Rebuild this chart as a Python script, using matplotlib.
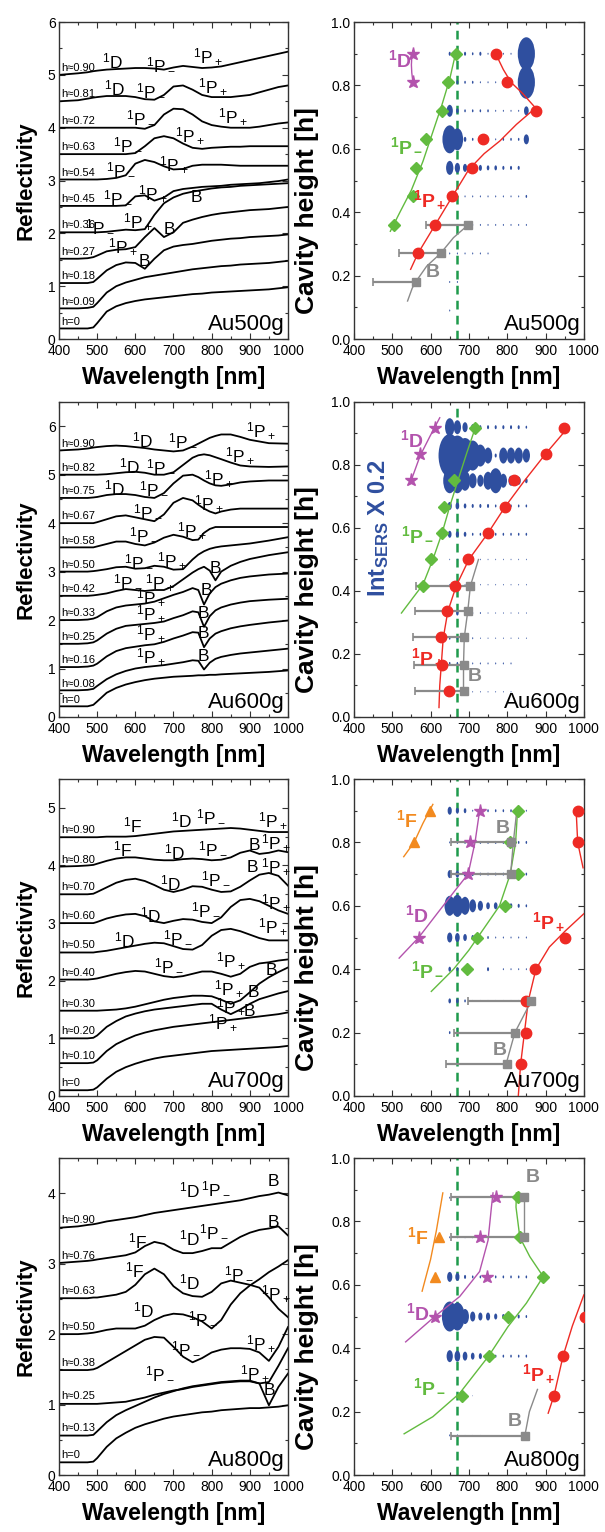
import matplotlib
matplotlib.use("Agg")
import matplotlib.pyplot as plt
from matplotlib.path import Path
from matplotlib.ticker import MultipleLocator

plt.rcParams["font.family"] = ["Liberation Sans", "DejaVu Sans"]
plt.rcParams["mathtext.fontset"] = "custom"
plt.rcParams["mathtext.rm"] = "Liberation Sans"
plt.rcParams["mathtext.bf"] = "Liberation Sans:bold"
plt.rcParams["mathtext.it"] = "Liberation Sans:italic"

# ---------------------------------------------------------------- reflectivity
GRID = [400, 450, 475, 490, 500, 525, 550, 575, 600, 625, 650, 675, 700,
        725, 750, 775, 800, 825, 850, 875, 900, 925, 950, 975, 1000]
GRID_600 = [400, 450, 475, 490, 500, 525, 550, 575, 600, 625, 650, 675, 700,
            725, 750, 765, 780, 795, 810, 825, 850, 875, 900, 950, 1000]

R500_H = ["h=0", "h≈0.09", "h≈0.18", "h≈0.27", "h≈0.36", "h≈0.45",
          "h≈0.54", "h≈0.63", "h≈0.72", "h≈0.81", "h≈0.90"]
R500 = [
    [0.2, 0.2, 0.2, 0.22, 0.3, 0.52, 0.62, 0.68, 0.72, 0.75, 0.77, 0.79, 0.81, 0.83, 0.85, 0.86, 0.88, 0.89, 0.9, 0.91, 0.92, 0.93, 0.94, 0.96, 0.98],
    [0.58, 0.58, 0.59, 0.61, 0.68, 0.88, 1.0, 1.07, 1.12, 1.17, 1.2, 1.23, 1.26, 1.29, 1.32, 1.34, 1.36, 1.38, 1.39, 1.41, 1.42, 1.43, 1.44, 1.46, 1.48],
    [1.06, 1.06, 1.06, 1.08, 1.14, 1.3, 1.4, 1.45, 1.44, 1.33, 1.52, 1.68, 1.75, 1.78, 1.8, 1.83, 1.86, 1.88, 1.9, 1.91, 1.93, 1.94, 1.95, 1.96, 1.98],
    [1.52, 1.52, 1.53, 1.55, 1.58, 1.66, 1.69, 1.7, 1.74, 1.93, 2.1, 1.93, 2.02, 2.2, 2.26, 2.31, 2.35, 2.38, 2.4, 2.42, 2.44, 2.45, 2.46, 2.48, 2.5],
    [2.02, 2.02, 2.02, 2.02, 2.02, 2.03, 2.05, 2.07, 2.06, 2.08, 2.35, 2.57, 2.68, 2.75, 2.79, 2.82, 2.85, 2.87, 2.88, 2.9, 2.91, 2.92, 2.93, 2.94, 2.95],
    [2.52, 2.52, 2.52, 2.52, 2.52, 2.52, 2.52, 2.53, 2.7, 2.72, 2.62, 2.68, 2.8, 2.84, 2.86, 2.88, 2.89, 2.9, 2.92, 2.93, 2.94, 2.95, 2.97, 2.99, 3.02],
    [3.02, 3.02, 3.02, 3.02, 3.02, 3.03, 3.05, 3.1, 3.32, 3.39, 3.35, 3.27, 3.21, 3.22, 3.28, 3.3, 3.3, 3.3, 3.29, 3.28, 3.28, 3.28, 3.28, 3.28, 3.28],
    [3.5, 3.5, 3.5, 3.5, 3.5, 3.5, 3.5, 3.5, 3.52, 3.65, 3.8, 3.84, 3.8, 3.7, 3.62, 3.6, 3.62, 3.63, 3.64, 3.64, 3.65, 3.65, 3.65, 3.65, 3.65],
    [4.0, 4.0, 4.0, 4.0, 4.0, 4.0, 4.0, 4.0, 4.0, 3.98, 4.05, 4.25, 4.36, 4.35, 4.25, 4.12, 4.05, 4.02, 4.0, 4.0, 4.0, 4.02, 4.05, 4.08, 4.1],
    [4.5, 4.52, 4.55, 4.57, 4.58, 4.6, 4.6, 4.6, 4.58, 4.54, 4.53, 4.62, 4.78, 4.8, 4.72, 4.62, 4.58, 4.58, 4.58, 4.6, 4.62, 4.67, 4.72, 4.77, 4.8],
    [5.0, 5.03, 5.05, 5.07, 5.08, 5.1, 5.11, 5.12, 5.13, 5.13, 5.12, 5.1, 5.14, 5.17, 5.15, 5.13, 5.14, 5.16, 5.2, 5.24, 5.28, 5.32, 5.36, 5.4, 5.44],
]
R500_MARKS = [
    (540, 5.26, "D"), (667, 5.19, "Pm"), (790, 5.35, "Pp"),
    (545, 4.75, "D"), (641, 4.69, "Pm"), (803, 4.78, "Pp"),
    (615, 4.18, "Pm"), (855, 4.21, "Pp"),
    (580, 3.68, "Pm"), (742, 3.84, "Pp"),
    (562, 3.20, "Pm"), (702, 3.30, "Pp"),
    (553, 2.67, "Pm"), (645, 2.76, "Pp"), (759, 2.67, "B"),
    (508, 2.12, "Pm"), (606, 2.23, "Pp"), (689, 2.07, "B"),
    (566, 1.75, "Pp"), (623, 1.47, "B"),
]

R600_H = ["h=0", "h≈0.08", "h≈0.16", "h≈0.25", "h≈0.33", "h≈0.42",
          "h≈0.50", "h≈0.58", "h≈0.67", "h≈0.75", "h≈0.82", "h≈0.90"]
R600 = [
    [0.22, 0.22, 0.22, 0.25, 0.32, 0.5, 0.6, 0.67, 0.72, 0.76, 0.79, 0.81, 0.83, 0.84, 0.85, 0.86, 0.86, 0.87, 0.87, 0.88, 0.89, 0.9, 0.91, 0.93, 0.96],
    [0.55, 0.55, 0.56, 0.58, 0.64, 0.78, 0.88, 0.95, 1.0, 1.03, 1.05, 1.07, 1.1, 1.13, 1.17, 1.16, 0.98, 1.12, 1.2, 1.24, 1.28, 1.31, 1.33, 1.37, 1.41],
    [1.03, 1.03, 1.04, 1.06, 1.1, 1.25, 1.36, 1.42, 1.45, 1.48, 1.5, 1.55, 1.62, 1.68, 1.75, 1.74, 1.44, 1.62, 1.72, 1.77, 1.83, 1.87, 1.9, 1.95, 1.99],
    [1.51, 1.51, 1.52, 1.54, 1.58, 1.72, 1.82, 1.88, 1.9, 1.92, 1.94, 1.97, 2.04, 2.1, 2.18, 2.16, 1.86, 2.08, 2.2, 2.26, 2.32, 2.36, 2.39, 2.42, 2.44],
    [2.0, 2.0, 2.01, 2.03, 2.06, 2.18, 2.26, 2.3, 2.32, 2.34, 2.38, 2.45, 2.52, 2.58, 2.66, 2.62, 2.32, 2.55, 2.68, 2.75, 2.82, 2.87, 2.9, 2.94, 2.96],
    [2.5, 2.5, 2.5, 2.51, 2.52, 2.55, 2.6, 2.64, 2.62, 2.6, 2.62, 2.62, 2.7, 2.84, 2.98, 3.05, 3.1, 3.02, 2.82, 3.0, 3.12, 3.2, 3.26, 3.34, 3.4],
    [3.0, 3.0, 3.0, 3.01, 3.02, 3.05, 3.09, 3.1, 3.06, 3.07, 3.12, 3.1, 3.04, 3.05, 3.25, 3.35, 3.42, 3.47, 3.5, 3.52, 3.54, 3.56, 3.58, 3.64, 3.71],
    [3.5, 3.5, 3.5, 3.5, 3.52, 3.57, 3.62, 3.62, 3.57, 3.54, 3.6, 3.7, 3.76, 3.72, 3.65, 3.66, 3.8, 3.88, 3.92, 3.92, 3.92, 3.92, 3.92, 3.92, 3.92],
    [4.0, 4.0, 4.0, 4.0, 4.02, 4.08, 4.14, 4.16, 4.12, 4.08, 4.04, 4.18, 4.42, 4.52, 4.47, 4.38, 4.3, 4.24, 4.2, 4.24, 4.28, 4.3, 4.3, 4.3, 4.3],
    [4.52, 4.52, 4.52, 4.53, 4.54, 4.58, 4.6, 4.6, 4.58, 4.54, 4.52, 4.62, 4.82, 4.98, 5.0, 4.95, 4.88, 4.82, 4.78, 4.77, 4.8, 4.84, 4.86, 4.88, 4.88],
    [5.0, 5.0, 5.0, 5.0, 5.0, 5.01, 5.03, 5.05, 5.06, 5.04, 5.0, 5.0, 5.05, 5.2, 5.35, 5.4, 5.42, 5.4, 5.36, 5.32, 5.25, 5.19, 5.17, 5.16, 5.17],
    [5.5, 5.52, 5.54, 5.56, 5.57, 5.59, 5.6, 5.59, 5.57, 5.55, 5.52, 5.5, 5.48, 5.5, 5.58, 5.64, 5.7, 5.76, 5.8, 5.83, 5.83, 5.78, 5.72, 5.65, 5.64],
]
R600_MARKS = [
    (620, 5.70, "D"), (724, 5.70, "Pm"), (930, 5.91, "Pp"),
    (584, 5.17, "D"), (667, 5.17, "Pm"), (873, 5.40, "Pp"),
    (545, 4.71, "D"), (648, 4.71, "Pm"), (820, 4.91, "Pp"),
    (632, 4.23, "Pm"), (793, 4.40, "Pp"),
    (621, 3.75, "Pm"), (749, 3.85, "Pp"),
    (608, 3.20, "Pm"), (696, 3.23, "Pp"),
    (580, 2.78, "Pm"), (664, 2.78, "Pp"), (810, 3.06, "B"),
    (640, 2.47, "Pp"), (787, 2.61, "B"),
    (640, 2.13, "Pp"), (778, 2.13, "B"),
    (640, 1.72, "Pp"), (778, 1.72, "B"),
    (640, 1.24, "Pp"), (778, 1.24, "B"),
]

R700_H = ["h=0", "h≈0.10", "h≈0.20", "h≈0.30", "h≈0.40", "h≈0.50",
          "h≈0.60", "h≈0.70", "h≈0.80", "h≈0.90"]
R700 = [
    [0.1, 0.1, 0.1, 0.11, 0.15, 0.3, 0.42, 0.5, 0.56, 0.61, 0.65, 0.68, 0.7, 0.72, 0.74, 0.76, 0.78, 0.79, 0.8, 0.81, 0.82, 0.83, 0.84, 0.85, 0.87],
    [0.57, 0.57, 0.57, 0.58, 0.62, 0.78, 0.9, 0.98, 1.05, 1.1, 1.14, 1.17, 1.2, 1.22, 1.24, 1.26, 1.28, 1.3, 1.32, 1.34, 1.36, 1.38, 1.4, 1.42, 1.45],
    [1.0, 1.0, 1.0, 1.01, 1.05, 1.2, 1.3, 1.38, 1.43, 1.47, 1.5, 1.52, 1.54, 1.56, 1.58, 1.6, 1.6, 1.5, 1.42, 1.5, 1.6, 1.68, 1.73, 1.78, 1.82],
    [1.48, 1.48, 1.48, 1.48, 1.48, 1.49, 1.5, 1.52, 1.55, 1.59, 1.63, 1.67, 1.7, 1.72, 1.74, 1.74, 1.73, 1.67, 1.6, 1.66, 1.8, 1.95, 2.06, 2.15, 2.23],
    [2.02, 2.02, 2.02, 2.03, 2.04, 2.08, 2.12, 2.15, 2.17, 2.16, 2.12, 2.08, 2.06, 2.08, 2.12, 2.16, 2.16, 2.12, 2.07, 2.12, 2.24, 2.3, 2.32, 2.35, 2.37],
    [2.49, 2.49, 2.49, 2.49, 2.5, 2.52, 2.55, 2.58, 2.61, 2.64, 2.66, 2.65, 2.6, 2.55, 2.54, 2.62, 2.78, 2.88, 2.9, 2.86, 2.8, 2.74, 2.7, 2.7, 2.7],
    [3.0, 3.0, 3.0, 3.0, 3.02, 3.08, 3.12, 3.15, 3.16, 3.12, 3.03, 3.0, 3.04, 3.07, 3.06, 3.02, 3.0, 3.1, 3.28, 3.4, 3.42, 3.38, 3.3, 3.22, 3.16],
    [3.5, 3.5, 3.5, 3.51, 3.54, 3.62, 3.7, 3.75, 3.77, 3.73, 3.66, 3.58, 3.54, 3.58, 3.64, 3.63, 3.58, 3.54, 3.55, 3.63, 3.74, 3.84, 3.87, 3.82, 3.65],
    [3.98, 3.99, 4.0, 4.01, 4.03, 4.08, 4.12, 4.14, 4.14, 4.12, 4.1, 4.09, 4.09, 4.11, 4.12, 4.11, 4.09, 4.1, 4.14, 4.22, 4.26, 4.2, 4.22, 4.26, 4.23],
    [4.49, 4.49, 4.49, 4.49, 4.49, 4.5, 4.5, 4.5, 4.51, 4.53, 4.55, 4.57, 4.59, 4.6, 4.61, 4.62, 4.63, 4.64, 4.65, 4.64, 4.62, 4.6, 4.58, 4.58, 4.58],
]
R700_MARKS = [
    (593, 4.70, "F"), (720, 4.78, "D"), (798, 4.84, "Pm"), (960, 4.78, "Pp"),
    (566, 4.27, "F"), (702, 4.23, "D"), (802, 4.29, "Pm"), (912, 4.35, "B"), (969, 4.39, "Pp"),
    (693, 3.68, "D"), (812, 3.77, "Pm"), (908, 3.97, "B"), (969, 3.97, "Pp"),
    (641, 3.13, "D"), (784, 3.23, "Pm"), (969, 3.36, "Pp"),
    (571, 2.70, "D"), (711, 2.75, "Pm"), (960, 2.93, "Pp"),
    (689, 2.26, "Pm"), (851, 2.35, "Pp"), (957, 2.17, "B"),
    (846, 1.86, "Pp"), (910, 1.79, "B"),
    (851, 1.55, "Pp"), (898, 1.47, "B"),
    (830, 1.27, "Pp"),
]

R800_H = ["h=0", "h≈0.13", "h≈0.25", "h≈0.38", "h≈0.50", "h≈0.63",
          "h≈0.76", "h≈0.90"]
R800 = [
    [0.18, 0.18, 0.18, 0.19, 0.24, 0.4, 0.52, 0.6, 0.67, 0.72, 0.76, 0.8, 0.83, 0.85, 0.87, 0.89, 0.9, 0.92, 0.93, 0.94, 0.95, 0.95, 0.96, 0.97, 0.99],
    [0.56, 0.56, 0.56, 0.57, 0.62, 0.75, 0.85, 0.92, 0.98, 1.04, 1.1, 1.15, 1.19, 1.23, 1.26, 1.28, 1.3, 1.32, 1.33, 1.34, 1.34, 1.3, 0.99, 1.25, 1.44],
    [1.01, 1.01, 1.01, 1.01, 1.01, 1.02, 1.03, 1.04, 1.07, 1.1, 1.14, 1.17, 1.2, 1.22, 1.25, 1.27, 1.29, 1.31, 1.32, 1.33, 1.33, 1.3, 1.32, 1.55, 1.8],
    [1.49, 1.49, 1.49, 1.5, 1.52, 1.6, 1.68, 1.76, 1.84, 1.92, 1.96, 1.95, 1.82, 1.68, 1.6, 1.66, 1.74, 1.78, 1.8, 1.8, 1.79, 1.74, 1.62, 1.82, 2.1],
    [2.0, 2.0, 2.01, 2.02, 2.03, 2.06, 2.08, 2.08, 2.08, 2.12, 2.2, 2.26, 2.29, 2.28, 2.24, 2.18, 2.08, 2.2, 2.42, 2.58, 2.69, 2.78, 2.88, 2.96, 3.05],
    [2.51, 2.51, 2.51, 2.52, 2.52, 2.54, 2.56, 2.6, 2.7, 2.85, 2.93, 2.85, 2.68, 2.58, 2.54, 2.53, 2.6, 2.72, 2.76, 2.73, 2.7, 2.66, 2.52, 2.36, 2.24],
    [3.01, 3.03, 3.04, 3.05, 3.06, 3.08, 3.1, 3.12, 3.16, 3.25, 3.31, 3.28, 3.2, 3.15, 3.15, 3.18, 3.22, 3.22, 3.3, 3.38, 3.44, 3.48, 3.5, 3.53, 3.4],
    [3.51, 3.53, 3.55, 3.56, 3.57, 3.6, 3.62, 3.64, 3.66, 3.69, 3.72, 3.74, 3.76, 3.78, 3.8, 3.82, 3.84, 3.86, 3.88, 3.9, 3.93, 3.96, 3.98, 4.01, 3.97],
]
R800_MARKS = [
    (742, 4.04, "D"), (810, 4.07, "Pm"), (961, 4.16, "B"),
    (606, 3.31, "F"), (742, 3.36, "D"), (807, 3.45, "Pm"), (961, 3.59, "B"),
    (597, 2.91, "F"), (742, 2.74, "D"), (871, 2.86, "Pm"), (969, 2.57, "Pp"),
    (622, 2.34, "D"), (778, 2.22, "Pm"),
    (733, 1.79, "Pm"), (930, 1.87, "Pp"),
    (663, 1.44, "Pm"), (912, 1.44, "Pp"),
    (952, 1.20, "B"),
]

# ---------------------------------------------------------------- cavity maps
SERS_WL = [650, 670, 690, 710, 730, 750, 770, 790, 810, 830, 850]

S500_H = [0.09, 0.18, 0.27, 0.36, 0.45, 0.54, 0.63, 0.72, 0.81, 0.90]
S500 = [
    [2, 0, 0, 0, 0, 0, 0, 0, 0, 0, 0],
    [2, 2, 0, 0, 0, 0, 0, 0, 0, 0, 0],
    [2, 2, 2, 2, 2, 2, 0, 0, 0, 0, 0],
    [2, 2, 2, 2, 2, 2, 2, 2, 2, 2, 2],
    [2, 2, 2, 2, 2, 2, 2, 2, 2, 2, 3],
    [14, 10, 8, 7, 6, 5, 5, 4, 4, 4, 0],
    [28, 22, 5, 3, 3, 2, 2, 3, 3, 3, 10],
    [12, 5, 3, 3, 3, 3, 2, 2, 2, 2, 9],
    [3, 4, 3, 3, 2, 2, 2, 2, 2, 2, 33],
    [4, 3, 4, 3, 4, 2, 2, 2, 2, 2, 33],
]
S600_H = [0.08, 0.17, 0.25, 0.33, 0.42, 0.50, 0.58, 0.67, 0.75, 0.83, 0.92]
S600 = [
    [0, 0, 1.5, 1.5, 1.5, 1.5, 1.5, 1.5, 1.5, 0, 0],
    [3, 3, 3, 2, 2, 2, 2, 2, 2, 0, 0],
    [3, 3, 2, 2, 1.5, 1.5, 1.5, 1.5, 1.5, 1.5, 1.5],
    [5, 5, 3, 2, 2, 1.5, 1.5, 1.5, 1.5, 1.5, 1.5],
    [1.5, 1.5, 1.5, 1.5, 1.5, 1.5, 1.5, 1.5, 1.5, 1.5, 1.5],
    [1.5, 1.5, 1.5, 1.5, 1.5, 1.5, 1.5, 1.5, 1.5, 1.5, 1.5],
    [7, 6, 5, 3, 3, 3, 3, 3, 3, 3, 3],
    [8, 7, 5, 4, 4, 4, 3, 3, 3, 3, 3],
    [25, 25, 20, 15, 12, 18, 25, 14, 10, 8, 5],
    [43, 40, 35, 30, 22, 16, 4, 16, 16, 16, 14],
    [18, 14, 10, 6, 4, 4, 4, 4, 4, 4, 3],
]
S700_H = [0.1, 0.2, 0.3, 0.4, 0.5, 0.6, 0.7, 0.8, 0.9]
S700 = [
    [0, 0, 0, 0, 0, 0, 0, 0, 0, 0, 0],
    [3, 0, 0, 0, 0, 0, 0, 0, 0, 0, 0],
    [5, 5, 3, 2, 2, 2, 2, 2, 2, 2, 2],
    [5, 4, 3, 0, 0, 4, 0, 2, 2, 2, 2],
    [10, 9, 7, 5, 3, 3, 2, 2, 2, 2, 2],
    [20, 22, 18, 13, 10, 7, 7, 6, 5, 4, 3],
    [8, 7, 5, 4, 3, 3, 3, 3, 3, 3, 3],
    [2, 3, 3, 3, 3, 3, 3, 3, 3, 3, 3],
    [8, 6, 5, 2, 2, 3, 3, 3, 3, 3, 2],
]
S800_H = [0.125, 0.25, 0.375, 0.5, 0.625, 0.75, 0.875]
S800 = [
    [2, 2, 1, 1, 1, 0, 0, 0, 0, 0, 0],
    [0, 0, 0, 1, 0, 0, 0, 0, 0, 0, 0],
    [12, 11, 9, 7, 6, 5, 3, 3, 3, 3, 3],
    [30, 28, 15, 10, 8, 8, 6, 5, 5, 4, 3],
    [10, 8, 4, 3, 3, 5, 3, 3, 3, 3, 3],
    [2, 2, 2, 2, 2, 2, 0, 0, 0, 0, 0],
    [2, 2, 0, 0, 0, 0, 0, 0, 0, 0, 0],
]

# measured resonance positions (wavelength, cavity height)
C500_PM = ([505, 554, 561, 587, 630, 646, 667], [0.36, 0.45, 0.54, 0.63, 0.72, 0.81, 0.90])
C500_PP = ([567, 612, 657, 707, 737, 874, 800, 772], [0.27, 0.36, 0.45, 0.54, 0.63, 0.72, 0.81, 0.90])
C500_B = ([561, 626, 698], [0.18, 0.27, 0.36])
C500_B_ERR = [111, 109, 111]
C500_D = ([554, 554], [0.81, 0.90])
C500_FITS = {
    "Pm": [([495, 520, 550, 580, 605, 630, 650, 667], [0.34, 0.40, 0.47, 0.56, 0.65, 0.74, 0.82, 0.91])],
    "Pp": [([548, 567, 612, 657, 700, 740, 781, 824, 874], [0.22, 0.27, 0.36, 0.45, 0.535, 0.585, 0.625, 0.677, 0.729]),
           ([874, 840, 810, 790, 778, 772], [0.729, 0.775, 0.81, 0.85, 0.88, 0.91])],
    "B": [([540, 552, 561, 590, 626, 660, 698], [0.12, 0.16, 0.18, 0.23, 0.27, 0.32, 0.36])],
    "D": [([554, 551, 550, 551, 554], [0.81, 0.84, 0.865, 0.89, 0.91])],
}
C500_TEXT = [(519, 0.88, "D"), (537, 0.61, "Pm"), (598, 0.44, "Pp"), (606, 0.21, "B")]

C600_PM = ([579, 602, 630, 635, 661, 717], [0.416, 0.50, 0.584, 0.668, 0.753, 0.919])
C600_PP = ([647, 630, 627, 642, 664, 698, 750, 794, 818, 900, 949],
           [0.081, 0.166, 0.253, 0.335, 0.416, 0.50, 0.584, 0.668, 0.753, 0.835, 0.919])
C600_B = ([688, 686, 688, 697, 702], [0.081, 0.166, 0.253, 0.335, 0.416])
C600_B_ERR = [129, 129, 134, 138, 139]
C600_D = ([550, 573, 612], [0.753, 0.835, 0.919])
C600_FITS = {
    "Pm": [([524, 555, 580, 606, 630, 650, 672, 695, 720], [0.33, 0.38, 0.42, 0.50, 0.584, 0.668, 0.753, 0.84, 0.93])],
    "Pp": [([622, 624, 628, 633, 645, 667, 700, 750, 795, 845, 900, 949],
            [0.03, 0.10, 0.166, 0.25, 0.335, 0.416, 0.50, 0.584, 0.668, 0.75, 0.835, 0.905])],
    "B": [([686, 686, 688, 697, 704, 725], [0.081, 0.166, 0.253, 0.335, 0.416, 0.50])],
    "D": [([550, 573, 598, 624], [0.753, 0.83, 0.89, 0.95])],
}
C600_TEXT = [(550, 0.88, "D"), (567, 0.58, "Pm"), (593, 0.19, "Pp"), (714, 0.13, "B")]

C700_PM = ([694, 722, 795, 829, 808, 827], [0.4, 0.5, 0.6, 0.7, 0.8, 0.9])
C700_PP = ([835, 850, 850, 872, 951, 984, 984], [0.1, 0.2, 0.3, 0.4, 0.5, 0.8, 0.9])
C700_B = ([800, 820, 863, 809, 811], [0.1, 0.2, 0.3, 0.7, 0.8])
C700_B_ERR = [159, 160, 165, 155, 157]
C700_D = ([569, 698, 704, 728], [0.5, 0.7, 0.8, 0.9])
C700_F = ([557, 599], [0.8, 0.9])
C700_FITS = {
    "Pm": [([602, 660, 700, 740, 780, 808, 822, 827], [0.33, 0.40, 0.46, 0.53, 0.60, 0.70, 0.80, 0.90])],
    "Pp": [([829, 835, 845, 855, 875, 910, 951, 1000], [0.0, 0.1, 0.2, 0.3, 0.4, 0.47, 0.52, 0.575]),
           ([980, 984, 998], [0.9, 0.8, 0.72])],
    "B": [([797, 820, 863], [0.1, 0.2, 0.3]), ([809, 816, 825], [0.7, 0.8, 0.9])],
    "D": [([518, 569, 620, 665, 698, 716, 728], [0.435, 0.5, 0.58, 0.65, 0.7, 0.8, 0.9])],
    "F": [([530, 557, 580, 606], [0.755, 0.8, 0.86, 0.92])],
}
C700_TEXT = [(537, 0.87, "F"), (563, 0.57, "D"), (593, 0.40, "Pm"), (907, 0.55, "Pp"),
             (789, 0.845, "B"), (781, 0.145, "B")]

C800_PM = ([682, 752, 802, 894, 833, 829], [0.25, 0.376, 0.5, 0.626, 0.75, 0.877])
C800_PP = ([922, 946, 1003], [0.25, 0.376, 0.5])
C800_B = ([846, 843, 843], [0.124, 0.75, 0.877])
C800_B_ERR = [192, 189, 189]
C800_D = ([611, 748, 730, 772], [0.5, 0.626, 0.75, 0.877])
C800_F = ([611, 622], [0.626, 0.75])
C800_FITS = {
    "Pm": [([531, 606, 676, 752, 802, 850, 894, 859, 833, 823, 824],
            [0.13, 0.184, 0.258, 0.376, 0.468, 0.542, 0.626, 0.689, 0.75, 0.845, 0.89])],
    "Pp": [([907, 922, 946, 970, 1000], [0.195, 0.25, 0.376, 0.47, 0.568])],
    "B": [([843, 843], [0.75, 0.877]), ([846, 858, 879], [0.124, 0.2, 0.27])],
    "D": [([535, 611, 676, 728, 750, 759, 763], [0.42, 0.5, 0.563, 0.642, 0.74, 0.847, 0.89])],
    "F": [([578, 600, 615, 632], [0.58, 0.68, 0.77, 0.89])],
}
C800_TEXT = [(567, 0.75, "F"), (567, 0.51, "D"), (598, 0.28, "Pm"), (881, 0.32, "Pp"),
             (866, 0.94, "B"), (820, 0.17, "B")]

LASER_WL = 668

# ---------------------------------------------------------------- styles
BLUE = "#2f4f9f"
RED = "#ee2a24"
GREEN = "#62bb3f"
GRAY = "#8a8a8a"
MAGENTA = "#b353ad"
ORANGE = "#f28a1f"
DASH_GREEN = "#1f9a4c"
KIND_COLOR = {"Pm": GREEN, "Pp": RED, "B": GRAY, "D": MAGENTA, "F": ORANGE}
KIND_MARKER = {"Pm": ("D", 6.5), "Pp": ("o", 7.5), "B": ("s", 5.5), "D": ("*", 9.5), "F": ("^", 7.5)}
TEXT_RM = {"D": r"$\mathregular{^1D}$", "F": r"$\mathregular{^1F}$",
           "Pm": r"$\mathregular{^1P_-}$", "Pp": r"$\mathregular{^1P_+}$", "B": "B"}
TEXT_BF = {"D": r"$\mathbf{^1D}$", "F": r"$\mathbf{^1F}$",
           "Pm": r"$\mathbf{^1P_-}$", "Pp": r"$\mathbf{^1P_+}$", "B": r"$\mathbf{B}$"}

circle = Path.unit_circle()
ELLIPSE = Path(circle.vertices * [0.52, 1.0], circle.codes)


def style_axes(ax, ymax, ymajor, yminor, yfmt):
    ax.set_xlim(400, 1000)
    ax.set_ylim(0, ymax)
    ax.xaxis.set_major_locator(MultipleLocator(100))
    ax.xaxis.set_minor_locator(MultipleLocator(50))
    ax.yaxis.set_major_locator(MultipleLocator(ymajor))
    ax.yaxis.set_minor_locator(MultipleLocator(yminor))
    ax.yaxis.set_major_formatter(yfmt)
    ax.tick_params(which="both", direction="in", top=True, right=True,
                   labelsize=10, width=0.8, color="#333333")
    ax.tick_params(which="major", length=4)
    ax.tick_params(which="minor", length=2)
    ax.tick_params(axis="x", which="major", pad=3.5)
    ax.tick_params(axis="y", which="major", pad=2.5)
    for sp in ax.spines.values():
        sp.set_linewidth(1.0)
        sp.set_color("#333333")
    ax.set_xlabel("Wavelength [nm]", fontsize=16.5, fontweight="bold", labelpad=6)


def draw_reflectivity(ax, wl, curves, hlabels, marks, ymax, name):
    for vals, lab in zip(curves, hlabels):
        ax.plot(wl, vals, color="black", lw=1.3)
        ax.text(405, vals[0] + 0.035, lab, fontsize=8, ha="left", va="bottom")
    for x, y, kind in marks:
        ax.text(x, y, TEXT_RM[kind], fontsize=12.5, ha="center", va="center")
    ax.text(0.985, 0.012, name, transform=ax.transAxes, fontsize=16,
            ha="right", va="bottom")
    style_axes(ax, ymax, 1, 0.5, "{x:.0f}")
    ax.set_ylabel("Reflectivity", fontsize=16, fontweight="bold")
    ax.yaxis.set_label_coords(-0.097, 0.5)


def draw_cavity(ax, sers_h, sers, points, bars, fits, texts, name):
    ax.axvline(LASER_WL, color=DASH_GREEN, lw=1.8, ls=(0, (3.5, 2.5)), zorder=1)
    xs, ys, ss = [], [], []
    for h, row in zip(sers_h, sers):
        for w, v in zip(SERS_WL, row):
            if v > 0:
                xs.append(w)
                ys.append(h)
                ss.append((0.72 * v) ** 2)
    ax.scatter(xs, ys, s=ss, marker=ELLIPSE, color=BLUE, linewidths=0, zorder=2)
    for kind, segs in fits.items():
        for fx, fy in segs:
            ax.plot(fx, fy, color=KIND_COLOR[kind], lw=1.0, zorder=3)
    bwl, bh, berr = bars
    ax.errorbar(bwl, bh, xerr=[berr, [0] * len(berr)], fmt="none", ecolor=GRAY,
                elinewidth=1.6, capsize=3, capthick=1.2, zorder=4)
    for kind, (px, py) in points.items():
        m, ms = KIND_MARKER[kind]
        ax.plot(px, py, ls="none", marker=m, ms=ms, color=KIND_COLOR[kind],
                mec=KIND_COLOR[kind], zorder=5)
    for x, y, kind in texts:
        ax.text(x, y, TEXT_BF[kind], color=KIND_COLOR[kind], fontsize=14,
                ha="center", va="center", zorder=6)
    ax.text(0.985, 0.012, name, transform=ax.transAxes, fontsize=16,
            ha="right", va="bottom", zorder=7)
    style_axes(ax, 1.0, 0.2, 0.1, "{x:.1f}")
    ax.set_ylabel("Cavity height [h]", fontsize=19, fontweight="bold")
    ax.yaxis.set_label_coords(-0.15, 0.405)


fig = plt.figure(figsize=(6.05, 15.32), dpi=100)
rows = [(0.7787, 0.2069), (0.5320, 0.2056), (0.2846, 0.2069), (0.0372, 0.2069)]
axes = [(fig.add_axes([0.0975, b, 0.3785, h]), fig.add_axes([0.585, b, 0.38, h]))
        for b, h in rows]

draw_reflectivity(axes[0][0], GRID, R500, R500_H, R500_MARKS, 6.0, "Au500g")
draw_reflectivity(axes[1][0], GRID_600, R600, R600_H, R600_MARKS, 6.5, "Au600g")
draw_reflectivity(axes[2][0], GRID, R700, R700_H, R700_MARKS, 5.5, "Au700g")
draw_reflectivity(axes[3][0], GRID, R800, R800_H, R800_MARKS, 4.5, "Au800g")

draw_cavity(axes[0][1], S500_H, S500,
            {"Pm": C500_PM, "Pp": C500_PP, "B": C500_B, "D": C500_D},
            (C500_B[0], C500_B[1], C500_B_ERR), C500_FITS, C500_TEXT, "Au500g")
draw_cavity(axes[1][1], S600_H, S600,
            {"Pm": C600_PM, "Pp": C600_PP, "B": C600_B, "D": C600_D},
            (C600_B[0], C600_B[1], C600_B_ERR), C600_FITS, C600_TEXT, "Au600g")
axes[1][1].text(463, 0.60, r"$\mathbf{Int_{SERS}}$ X 0.2", rotation=90, color=BLUE,
                fontsize=17, fontweight="bold", ha="center", va="center")
draw_cavity(axes[2][1], S700_H, S700,
            {"Pm": C700_PM, "Pp": C700_PP, "B": C700_B, "D": C700_D, "F": C700_F},
            (C700_B[0], C700_B[1], C700_B_ERR), C700_FITS, C700_TEXT, "Au700g")
draw_cavity(axes[3][1], S800_H, S800,
            {"Pm": C800_PM, "Pp": C800_PP, "B": C800_B, "D": C800_D, "F": C800_F},
            (C800_B[0], C800_B[1], C800_B_ERR), C800_FITS, C800_TEXT, "Au800g")

fig.savefig("out.png", dpi=100)
